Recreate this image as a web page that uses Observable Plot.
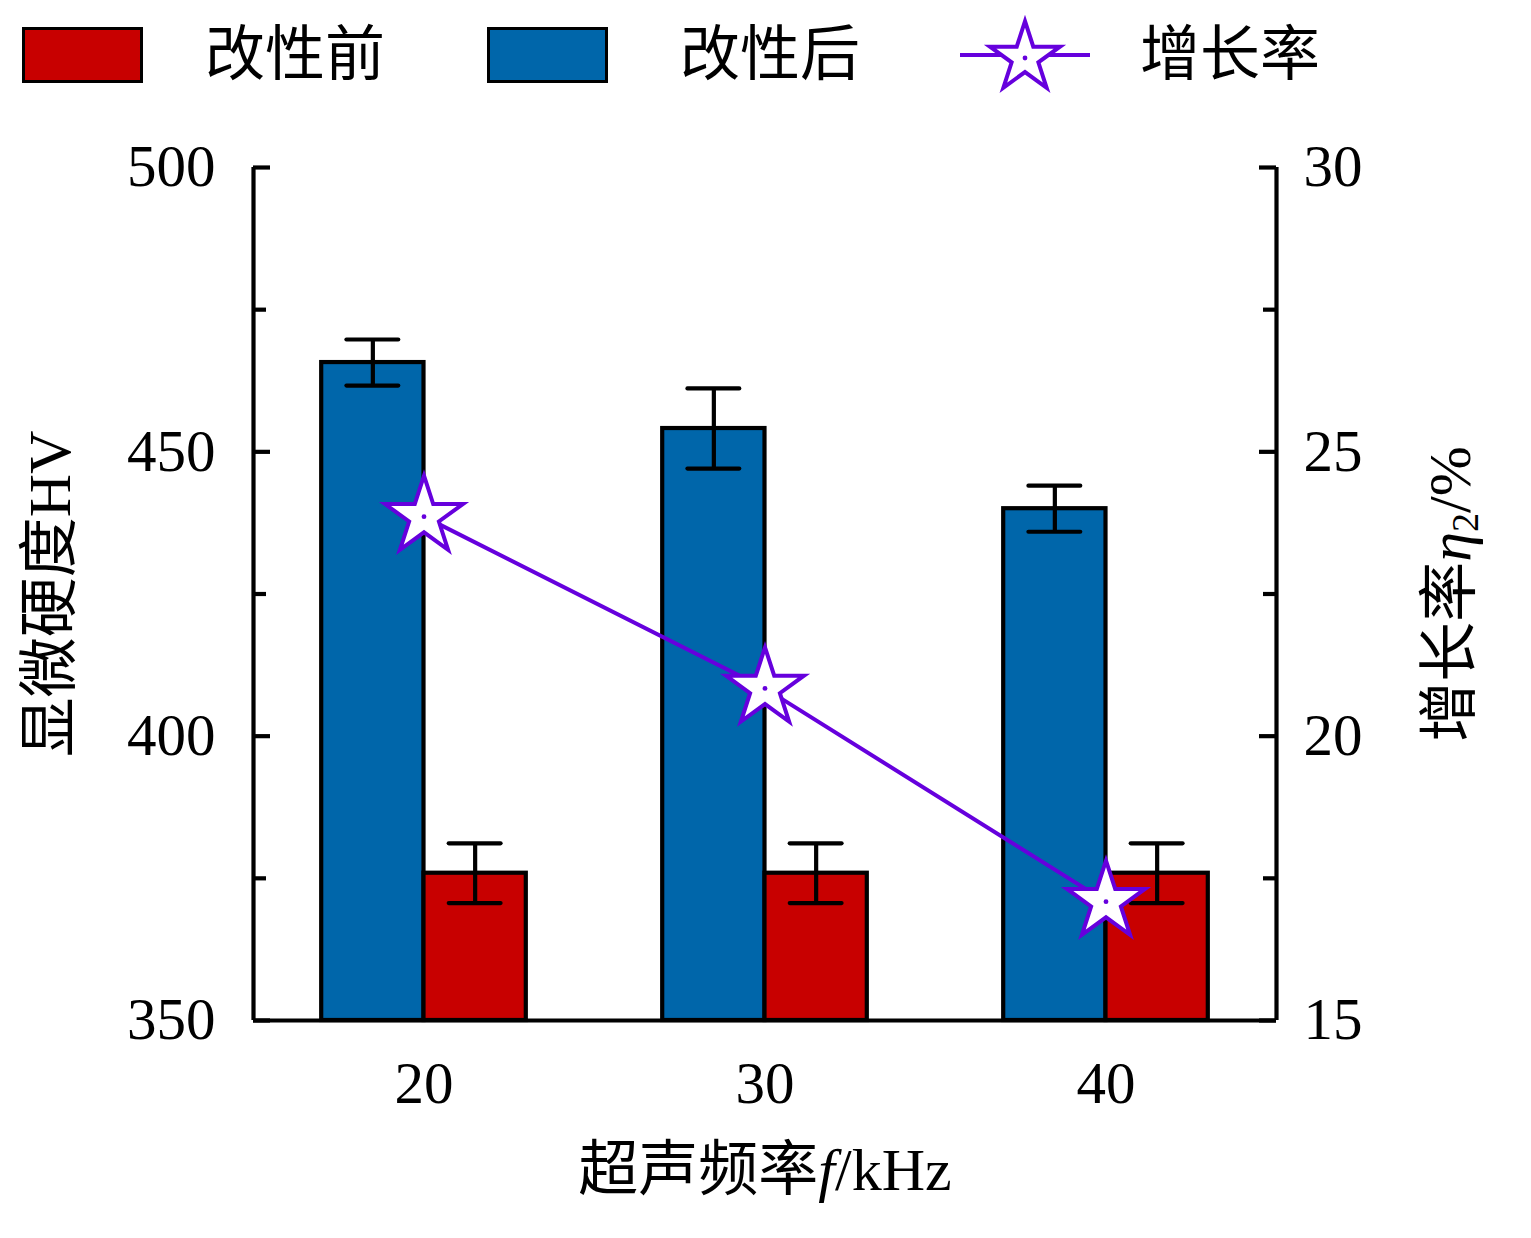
<!DOCTYPE html>
<html><head><meta charset="utf-8">
<script src="https://cdn.jsdelivr.net/npm/d3@7"></script>
<script src="https://cdn.jsdelivr.net/npm/@observablehq/plot@0.6"></script>
<style>
body{margin:0;background:#fff;}
#legend{position:relative;height:120px;width:1531px;font-family:"Liberation Serif","Noto Sans CJK SC",serif;}
#legend .sw{position:absolute;box-sizing:border-box;border:3.5px solid #000;}
#legend .lb{position:absolute;font-size:60px;line-height:60px;white-space:nowrap;color:#000;}
#legend svg{position:absolute;}
</style></head><body>
<div id="legend"></div><div id="chart"></div>
<script>
// ---- data ----
const freqs = [20, 30, 40];
const seriesNames = ["改性前", "改性后", "增长率"];
const before = [375.9, 375.9, 375.9];
const beforeErr = [5.25, 5.25, 5.25];
const after = [465.7, 454.1, 440.0];
const afterErr = [4.05, 7.05, 4.05];
const growth = [23.86, 20.84, 17.09];
const leftTicks = [350, 400, 450, 500];
const leftMinor = [375, 425, 475];
const rightTicks = [15, 20, 25, 30];
const rightMinor = [17.5, 22.5, 27.5];
const xTitle = "超声频率f/kHz";
const yTitle = "显微硬度HV";
const y2Title = "增长率η2/%";

// ---- style ----
const red = "#c80000", blue = "#0066aa", purple = "#6600dd";
const W = 1531, H = 1118;
const mL = 253, mR = 255, mT = 47, mB = 218;
const plotW = W - mL - mR;
const halfBar = 3;      // bar width in kHz units
const capHalf = 0.76;   // error cap half width in kHz units
const sw = 4.2;
const toLeft = r => 350 + (r - 15) * 10;
const fromLeft = v => (v - 350) / 10 + 15;

const bars = freqs.flatMap((f, i) => [
  {f, series: seriesNames[1], x1: f - halfBar, x2: f, c: f - halfBar / 2, v: after[i], e: afterErr[i]},
  {f, series: seriesNames[0], x1: f, x2: f + halfBar, c: f + halfBar / 2, v: before[i], e: beforeErr[i]}
]);
const caps = bars.flatMap(d => [{...d, y: d.v - d.e}, {...d, y: d.v + d.e}]);
const line = freqs.map((f, i) => ({f, g: growth[i]}));

const chart = Plot.plot({
  width: W, height: H,
  marginLeft: mL, marginRight: mR, marginTop: mT, marginBottom: mB,
  x: {domain: [15, 45]},
  y: {domain: [350, 500]},
  color: {domain: seriesNames.slice(0, 2), range: [red, blue]},
  style: {fontFamily: '"Liberation Serif","Noto Sans CJK SC",serif', background: "#fff", color: "#000"},
  marks: [
    Plot.rectY(bars, {x1: "x1", x2: "x2", y1: 350, y2: "v", fill: "series", stroke: "#000", strokeWidth: sw}),
    Plot.ruleX(bars, {x: "c", y1: d => d.v - d.e, y2: d => d.v + d.e, stroke: "#000", strokeWidth: sw}),
    Plot.ruleY(caps, {y: "y", x1: d => d.c - capHalf, x2: d => d.c + capHalf, stroke: "#000", strokeWidth: sw, strokeLinecap: "round"}),
    // frame lines
    Plot.ruleX([15, 45], {stroke: "#000", strokeWidth: sw}),
    Plot.ruleY([350], {stroke: "#000", strokeWidth: sw}),
    // inward ticks
    Plot.ruleY(leftTicks, {y: d => d, insetRight: plotW - 17, stroke: "#000", strokeWidth: sw}),
    Plot.ruleY(leftMinor, {y: d => d, insetRight: plotW - 13, stroke: "#000", strokeWidth: sw}),
    Plot.ruleY(rightTicks, {y: d => toLeft(d), insetLeft: plotW - 17, stroke: "#000", strokeWidth: sw}),
    Plot.ruleY(rightMinor, {y: d => toLeft(d), insetLeft: plotW - 13, stroke: "#000", strokeWidth: sw}),
    // axes labels
    Plot.axisX(freqs, {tickSize: 0, tickPadding: 41, fontSize: 59, label: null}),
    Plot.axisY(leftTicks, {anchor: "left", tickSize: 0, tickPadding: 38, fontSize: 59, label: null}),
    Plot.axisY(rightTicks.map(toLeft), {anchor: "right", tickSize: 0, tickPadding: 27, fontSize: 59, label: null, tickFormat: d => String(fromLeft(d))}),
    // titles
    Plot.text([xTitle], {frameAnchor: "bottom", dy: 150, text: d => d, fontSize: 60, lineAnchor: "middle", textAnchor: "middle"}),
    Plot.text([yTitle], {frameAnchor: "left", dx: -203, rotate: -90, text: d => d, fontSize: 60, lineAnchor: "middle", textAnchor: "middle"}),
    Plot.text([y2Title], {frameAnchor: "right", dx: 174, rotate: -90, text: d => d, fontSize: 60, lineAnchor: "middle", textAnchor: "middle"}),
    // growth line
    Plot.line(line, {x: "f", y: d => toLeft(d.g), stroke: purple, strokeWidth: 4}),
    Plot.dot(line, {x: "f", y: d => toLeft(d.g), symbol: "star", r: 24.5, fill: "#fff", stroke: purple, strokeWidth: 4}),
    Plot.dot(line, {x: "f", y: d => toLeft(d.g), r: 2.4, fill: purple, stroke: "none"})
  ]
});

// rich text for titles
d3.select(chart).selectAll("text").each(function() {
  const t = this.textContent;
  const sel = d3.select(this);
  if (t === xTitle) {
    sel.text(null);
    sel.append("tspan").text("超声频率");
    sel.append("tspan").attr("font-style", "italic").text("f");
    sel.append("tspan").text("/kHz");
  } else if (t === y2Title) {
    sel.text(null);
    sel.append("tspan").text("增长率");
    sel.append("tspan").attr("font-style", "italic").text("η");
    sel.append("tspan").attr("font-size", "38").attr("dy", "8").text("2");
    sel.append("tspan").attr("dy", "-8").text("/%");
  }
});
document.getElementById("chart").appendChild(chart);

// legend
const lg = d3.select("#legend");
const items = [
  {name: seriesNames[0], kind: "box", color: red, sx: 22, tx: 205},
  {name: seriesNames[1], kind: "box", color: blue, sx: 487, tx: 680},
  {name: seriesNames[2], kind: "line", color: purple, sx: 960, tx: 1140}
];
for (const it of items) {
  if (it.kind === "box") {
    lg.append("div").attr("class", "sw")
      .style("left", it.sx + "px").style("top", "27px")
      .style("width", "121px").style("height", "56px")
      .style("background", it.color);
  } else {
    const s = lg.append("svg").attr("width", 130).attr("height", 100)
      .style("left", it.sx + "px").style("top", "5px");
    s.append("line").attr("x1", 0).attr("x2", 130).attr("y1", 50).attr("y2", 50)
      .attr("stroke", it.color).attr("stroke-width", 4);
    s.append("path").attr("transform", "translate(65,53)")
      .attr("d", d3.symbol(d3.symbolStar, Math.PI * 22 * 22)())
      .attr("fill", "#fff").attr("stroke", it.color).attr("stroke-width", 4);
    s.append("circle").attr("cx", 65).attr("cy", 53).attr("r", 2.4).attr("fill", it.color);
  }
  lg.append("div").attr("class", "lb")
    .style("left", it.tx + "px").style("top", "25px").text(it.name);
}
</script>
</body></html>
